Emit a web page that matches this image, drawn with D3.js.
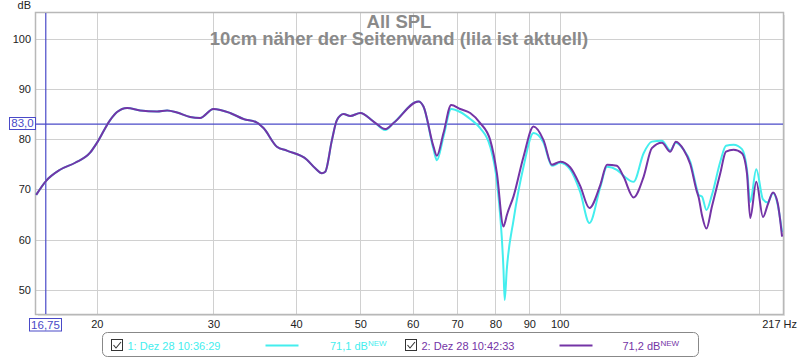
<!DOCTYPE html>
<html>
<head>
<meta charset="utf-8">
<script src="https://cdn.jsdelivr.net/npm/d3@7"></script>
<style>
body { margin: 0; background: #fff; }
text { font-family: Arial, "Liberation Sans", sans-serif; }
</style>
</head>
<body>
<div id="chart"></div>
<script>
var freqs = [16.2, 16.77, 17.6, 18.55, 19.54, 20.0, 20.95, 21.46, 22.22, 23.25, 24.66, 25.54, 26.44, 27.67, 28.64,
  30.0, 31.8, 33.31, 34.9, 35.71, 37.41, 38.73, 41.53, 42.75, 43.75, 44.26, 45.3, 46.1, 47.17, 48.28,
  50.0, 52.35, 54.52, 56.12, 61.21, 62.28, 64.49, 65.25, 66.77, 68.58, 70.76, 73.27, 75.86, 78.55, 80.4,
  82.26, 82.6, 83.2, 85.18, 88.19, 91.31, 94.54, 97.34, 100.2, 103.7, 107.4, 110.9, 115.2, 117.9, 122.0,
  124.9, 129.3, 133.9, 137.8, 142.7, 146.9, 149.8, 153.9, 157.5, 161.2, 162.1, 164.0, 166.6, 169.8, 174.8,
  178.3, 183.1, 188.5, 191.8, 194.0, 198.1, 202.8, 206.1, 210.0, 213.4, 216.7];

// 2: Dez 28 10:42:33 (lila, aktuell)
var splPurple = [68.9, 71.7, 73.9, 75.3, 77.3, 79.2, 83.8, 85.4, 86.2, 85.7, 85.5, 85.7, 85.3, 84.4, 84.2,
  86.0, 85.2, 84.0, 83.3, 82.2, 78.5, 77.7, 75.9, 74.2, 73.2, 73.5, 79.8, 83.8, 85.0, 84.6,
  85.2, 83.5, 82.0, 83.2, 87.5, 86.5, 78.5, 76.7, 81.2, 86.8, 86.0, 85.2, 83.2, 79.8, 73.2,
  62.6, 63.2, 64.8, 68.6, 76.5, 82.5, 79.8, 74.9, 75.5, 74.4, 70.7, 66.3, 70.9, 74.9, 74.7,
  72.5, 68.4, 72.5, 78.2, 79.3, 77.5, 79.5, 77.9, 75.0, 69.5, 68.5, 64.9, 62.2, 66.6, 73.2,
  77.5, 77.9, 77.2, 73.2, 64.3, 71.5, 64.5, 66.9, 69.4, 67.3, 60.6];

// 1: Dez 28 10:36:29 (cyan)
var splCyan = [68.9, 71.7, 73.9, 75.3, 77.3, 79.2, 83.8, 85.4, 86.2, 85.7, 85.5, 85.7, 85.3, 84.4, 84.2,
  86.0, 85.2, 84.0, 83.3, 82.2, 78.5, 77.7, 75.9, 74.2, 73.2, 73.5, 79.8, 83.8, 85.0, 84.6,
  85.2, 83.5, 81.8, 83.2, 87.5, 86.5, 78.0, 75.8, 80.5, 86.0, 85.4, 84.0, 82.2, 78.5, 71.5,
  54.0, 48.0, 54.0, 63.9, 74.5, 81.2, 79.3, 74.7, 75.3, 74.0, 69.5, 63.3, 70.5, 74.5, 73.9,
  72.7, 71.5, 77.2, 79.5, 79.7, 77.8, 79.3, 77.9, 75.5, 70.0, 68.9, 68.6, 65.9, 68.9, 75.5,
  78.7, 78.9, 78.0, 74.0, 67.5, 74.0, 68.0, 67.4, 69.3, 67.0, 61.5];

var yTicks = [50, 60, 70, 80, 90, 100];
var xGrid = [20, 30, 40, 50, 60, 70, 80, 90, 100, 200];
var xTickLabels = ["20", "30", "40", "50", "60", "70", "80", "90", "100", ""];
var cursorFreq = 16.75;
var cursorLevel = 83.0;
var titleLines = ["All SPL", "10cm näher der Seitenwand (lila ist aktuell)"];
var legendNames = ["1: Dez 28 10:36:29", "2: Dez 28 10:42:33"];
var legendValues = ["71,1 dB", "71,2 dB"];
var colors = ["#44eeee", "#7434a6"];

var W = 800, H = 360;
var margin = {top: 13, right: 17, bottom: 46, left: 36};
var width = W - margin.left - margin.right,
    height = H - margin.top - margin.bottom;

var svg = d3.select("#chart")
  .append("svg")
  .attr("width", W)
  .attr("height", H);

var x = d3.scaleLog()
  .domain([16.19, 217.4])
  .range([margin.left, margin.left + width]);

var y = d3.scaleLinear()
  .domain([45.2, 105.1])
  .range([margin.top + height, margin.top]);

// plot background + frame shadow
svg.append("rect")
  .attr("x", margin.left + 2).attr("y", margin.top + 2)
  .attr("width", width).attr("height", height)
  .attr("fill", "#e4e4e4");
svg.append("rect")
  .attr("x", margin.left).attr("y", margin.top)
  .attr("width", width).attr("height", height)
  .attr("fill", "#fff");

// grid
svg.append("g")
  .selectAll("line")
  .data(yTicks)
  .enter().append("line")
    .attr("x1", margin.left).attr("x2", margin.left + width)
    .attr("y1", function(d) { return Math.round(y(d)) + 0.5; })
    .attr("y2", function(d) { return Math.round(y(d)) + 0.5; })
    .attr("stroke", "#d0d0d0");
svg.append("g")
  .selectAll("line")
  .data(xGrid)
  .enter().append("line")
    .attr("y1", margin.top).attr("y2", margin.top + height)
    .attr("x1", function(d) { return Math.round(x(d)) + 0.5; })
    .attr("x2", function(d) { return Math.round(x(d)) + 0.5; })
    .attr("stroke", "#d0d0d0");

// frame
svg.append("rect")
  .attr("x", margin.left - 0.5).attr("y", margin.top - 0.5)
  .attr("width", width + 1).attr("height", height + 1)
  .attr("fill", "none")
  .attr("stroke", "#b8b8b8")
  .attr("stroke-width", 1.5);

// axes (labels only)
var yAxis = svg.append("g")
  .attr("transform", "translate(" + margin.left + ",0)")
  .call(d3.axisLeft(y).tickValues(yTicks).tickSize(0).tickPadding(5));
var xAxis = svg.append("g")
  .attr("transform", "translate(0," + (margin.top + height) + ")")
  .call(d3.axisBottom(x).tickValues(xGrid)
    .tickFormat(function(d, i) { return xTickLabels[i]; })
    .tickSize(0).tickPadding(6));
[yAxis, xAxis].forEach(function(a) {
  a.select(".domain").remove();
  a.selectAll("text")
    .attr("font-size", 11)
    .attr("font-family", "Arial, 'Liberation Sans', sans-serif")
    .attr("fill", "#222");
});

svg.append("text")
  .attr("x", 31).attr("y", 9)
  .attr("text-anchor", "end")
  .attr("font-size", 11).attr("fill", "#222")
  .text("dB");
svg.append("text")
  .attr("x", 797).attr("y", 328)
  .attr("text-anchor", "end")
  .attr("font-size", 11).attr("fill", "#222")
  .text("217 Hz");

// title (two lines in one text block)
var title = svg.append("text")
  .attr("x", 399)
  .attr("y", 28)
  .attr("text-anchor", "middle")
  .attr("font-size", 18.5)
  .attr("font-weight", "bold")
  .attr("fill", "#8a8a8a");
title.selectAll("tspan")
  .data(titleLines)
  .enter().append("tspan")
    .attr("x", 399)
    .attr("dy", function(d, i) { return i == 0 ? 0 : 17; })
    .text(function(d) { return d; });

// cursors
var cursorColor = "#4a4ac8";
svg.append("line")
  .attr("x1", margin.left).attr("x2", margin.left + width)
  .attr("y1", y(cursorLevel)).attr("y2", y(cursorLevel))
  .attr("stroke", cursorColor).attr("stroke-width", 1.2);
svg.append("line")
  .attr("x1", x(cursorFreq)).attr("x2", x(cursorFreq))
  .attr("y1", margin.top).attr("y2", margin.top + height)
  .attr("stroke", cursorColor).attr("stroke-width", 1.2);

// curves
var series = [splCyan, splPurple];
var line = d3.line()
  .x(function(d) { return x(d[0]); })
  .y(function(d) { return y(d[1]); })
  .curve(d3.curveMonotoneX);

svg.append("g")
  .selectAll("path")
  .data(series)
  .enter().append("path")
    .attr("fill", "none")
    .attr("stroke", function(d, i) { return colors[i]; })
    .attr("stroke-width", 2)
    .attr("stroke-linejoin", "round")
    .attr("d", function(s) { return line(freqs.map(function(f, i) { return [f, s[i]]; })); });

// cursor boxes
function cursorBox(cx, cy, w, h, label) {
  svg.append("rect")
    .attr("x", cx).attr("y", cy).attr("width", w).attr("height", h)
    .attr("fill", "#fff").attr("stroke", cursorColor).attr("stroke-width", 1);
  svg.append("text")
    .attr("x", cx + w / 2).attr("y", cy + h - 2.5)
    .attr("text-anchor", "middle")
    .attr("font-size", 11.5).attr("fill", cursorColor)
    .text(label);
}
cursorBox(9.5, 117.5, 26, 12, d3.format(".1f")(cursorLevel).replace(".", ","));
cursorBox(29.5, 318.5, 32, 12.5, d3.format(".2f")(cursorFreq).replace(".", ","));

// legend
svg.append("rect")
  .attr("x", 102.5).attr("y", 332.5)
  .attr("width", 596).attr("height", 24)
  .attr("rx", 5).attr("ry", 5)
  .attr("fill", "#fff").attr("stroke", "#888");

var legendX = [111, 405];
legendNames.forEach(function(name, i) {
  var lx = legendX[i];
  var g = svg.append("g").attr("transform", "translate(" + lx + ",339.5)");
  g.append("rect")
    .attr("x", 0.5).attr("y", 0).attr("width", 11).attr("height", 11)
    .attr("fill", "#fff").attr("stroke", "#333");
  g.append("path")
    .attr("d", "M2.5,5.5 L5,8.5 L10,2.5")
    .attr("fill", "none").attr("stroke", "#333").attr("stroke-width", 1.1);
  g.append("text")
    .attr("x", 16.5).attr("y", 10)
    .attr("font-size", 11).attr("fill", colors[i])
    .text(name);
  g.append("line")
    .attr("x1", 154.5).attr("x2", 187.5)
    .attr("y1", 6).attr("y2", 6)
    .attr("stroke", colors[i]).attr("stroke-width", 2);
  var t = g.append("text")
    .attr("x", i == 0 ? 219 : 217.5).attr("y", 10)
    .attr("font-size", 11).attr("fill", colors[i]);
  t.append("tspan").text(legendValues[i]);
  t.append("tspan").attr("font-size", 8).attr("dy", -4).text("NEW");
});
</script>
</body>
</html>
